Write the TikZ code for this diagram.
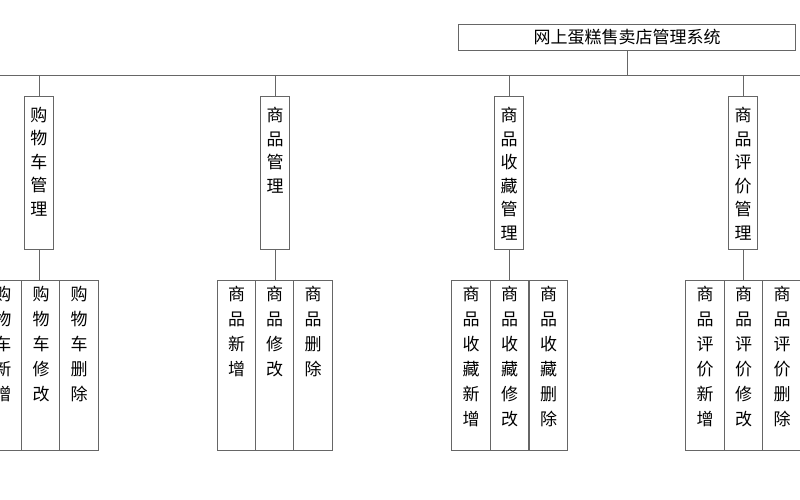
\documentclass[tikz,border=0pt]{standalone}
\usepackage{fontspec}
\newfontfamily\cjk{Noto Sans CJK SC}
\begin{document}
\begin{tikzpicture}[x=1pt,y=-1pt,
  ln/.style={draw=black!60,line width=0.9pt},
  mid/.style={ln,fill=white,minimum width=29pt,minimum height=153pt,anchor=north,inner sep=0pt},
  leaf/.style={ln,fill=white,minimum width=38.5pt,minimum height=170pt,anchor=north,inner sep=0pt},
  txt/.style={anchor=north,align=center,font=\cjk\fontsize{17}{23.5}\selectfont,inner sep=0pt},
  ltxt/.style={anchor=north,align=center,font=\cjk\fontsize{17}{25}\selectfont,inner sep=0pt}]
\useasboundingbox (0,0) rectangle (800,500);
\node[ln,minimum width=337pt,minimum height=26pt,inner sep=0pt,font=\cjk\fontsize{17}{18}\selectfont] (root) at (627,37) {网上蛋糕售卖店管理系统};
\coordinate (hl) at (0,75); \coordinate (hr) at (800,75);
\draw[ln] (hl) -- (hr);
\coordinate (rj) at (627,75);
\draw[ln] (root.south) -- (rj);
% level 2
\foreach \n/\x/\t in {m1/39/购\\物\\车\\管\\理, m2/275/商\\品\\管\\理, m3/509/商\\品\\收\\藏\\管\\理, m4/743/商\\品\\评\\价\\管\\理}{
  \coordinate (\n j) at (\x,75);
  \node[mid] (\n) at (\x,96) {};
  \node[txt] (\n t) at (\x,107) {\t};
  \draw[ln] (\n j) -- (\n.north);
}
% leaves
\foreach \p/\a/\b/\c/\ta/\tb/\tc in {
  m1/3/41/79/购\\物\\车\\新\\增/购\\物\\车\\修\\改/购\\物\\车\\删\\除,
  m2/236.5/274.5/313/商\\品\\新\\增/商\\品\\修\\改/商\\品\\删\\除,
  m3/471/509.5/548.5/商\\品\\收\\藏\\新\\增/商\\品\\收\\藏\\修\\改/商\\品\\收\\藏\\删\\除,
  m4/705/743.5/782/商\\品\\评\\价\\新\\增/商\\品\\评\\价\\修\\改/商\\品\\评\\价\\删\\除}{
  \node[leaf] (\p a) at (\a,280) {};
  \node[leaf] (\p b) at (\b,280) {};
  \node[leaf] (\p c) at (\c,280) {};
  \node[ltxt] (\p at) at (\a,286) {\ta};
  \node[ltxt] (\p bt) at (\b,286) {\tb};
  \node[ltxt] (\p ct) at (\c,286) {\tc};
  \draw[ln] (\p.south) -- (\p.south |- \p b.north);
}
\end{tikzpicture}
\end{document}
